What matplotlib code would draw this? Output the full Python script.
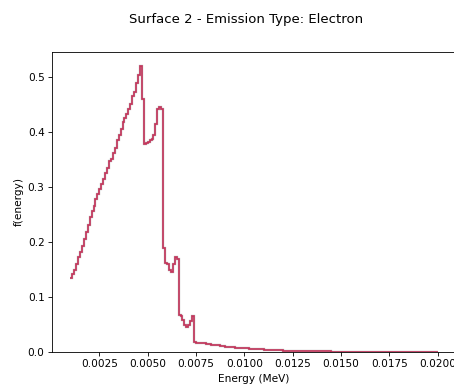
import numpy as np
import matplotlib
matplotlib.use('Agg')
import matplotlib.pyplot as plt

# fine bins, 0.0010 - 0.0075 MeV (width 0.0001)
fine_edges = np.round(np.arange(0.0010, 0.00751, 0.0001), 5)
fine_vals = [
    0.135, 0.142, 0.150, 0.160, 0.172, 0.182, 0.193, 0.205, 0.218, 0.232,
    0.245, 0.256, 0.266, 0.278, 0.287, 0.296, 0.305, 0.315, 0.325, 0.335,
    0.348, 0.352, 0.362, 0.372, 0.385, 0.395, 0.405, 0.418, 0.425, 0.433,
    0.442, 0.452, 0.465, 0.474, 0.490, 0.505, 0.520, 0.460, 0.378, 0.380,
    0.382, 0.385, 0.388, 0.395, 0.415, 0.442, 0.445, 0.443, 0.190, 0.162,
    0.160, 0.150, 0.145, 0.160, 0.172, 0.170, 0.067, 0.066, 0.058, 0.050,
    0.046, 0.050, 0.056, 0.066, 0.018,
]

# coarse bins, 0.0075 - 0.0200 MeV (width 0.00025)
coarse_edges = np.round(np.arange(0.0075, 0.020001, 0.00025), 6)
coarse_vals = [
    0.017, 0.016, 0.015, 0.0135, 0.012, 0.011, 0.0098, 0.0088, 0.008, 0.0072,
    0.0065, 0.0058, 0.0052, 0.0047, 0.0042, 0.0038, 0.0034, 0.0030, 0.0027, 0.0024,
    0.0022, 0.0020, 0.0012, 0.0011, 0.0010, 0.0010, 0.0009, 0.0009, 0.0008, 0.0008,
    0.0008, 0.0007, 0.0007, 0.0007, 0.0006, 0.0006, 0.0006, 0.0005, 0.0005, 0.0005,
    0.0005, 0.0004, 0.0004, 0.0004, 0.0004, 0.0004, 0.0003, 0.0003, 0.0003, 0.0003,
]

edges = np.concatenate([fine_edges, coarse_edges[1:]])
values = np.array(fine_vals + coarse_vals)

DPI = 76
fig = plt.figure(figsize=(454 / DPI, 388 / DPI), dpi=DPI)
ax = fig.add_axes([0.1145, 0.0928, 0.89, 0.7732])

ax.stairs(values, edges, baseline=None, color='#555555', lw=2.2, alpha=0.45)
ax.stairs(values, edges, baseline=None, color='#c8325a', lw=1.5)

ax.set_xlim(0.00005, 0.02095)
ax.set_ylim(0, 0.546)
ax.set_xticks([0.0025, 0.0050, 0.0075, 0.0100, 0.0125, 0.0150, 0.0175, 0.0200])
ax.set_xticklabels(['0.0025', '0.0050', '0.0075', '0.0100', '0.0125', '0.0150', '0.0175', '0.0200'])
ax.set_xlabel("Energy (MeV)")
ax.set_ylabel("f(energy)")
fig.text(246 / 454, 1 - 20 / 388, "Surface 2 - Emission Type: Electron",
         ha='center', va='center', fontsize=12.5)

fig.savefig('out.png', dpi=DPI)
